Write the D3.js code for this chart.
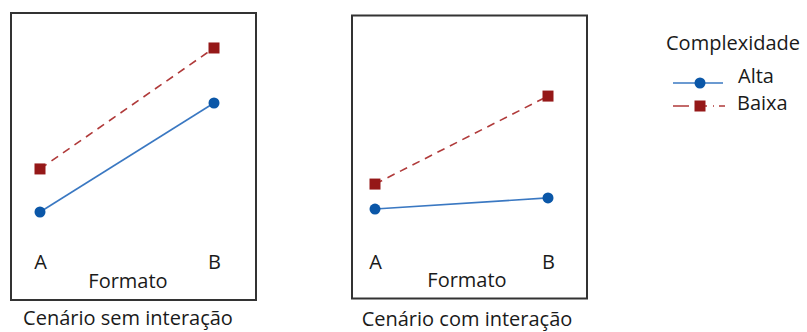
<!DOCTYPE html>
<html><head><meta charset="utf-8">
<script src="https://cdn.jsdelivr.net/npm/d3@7"></script>
<style>body{margin:0;background:#fff}svg{display:block}text{font-family:"Open Sans",sans-serif;fill:#1a1a1a}</style>
</head><body><svg id="c" width="807" height="332"></svg>
<script>
const categories = ["A", "B"];
const panelTitles = ["Cenário sem interação", "Cenário com interação"];
const altaSem = [1.81, 7.0];
const baixaSem = [3.86, 9.62];
const altaCom = [1.95, 2.48];
const baixaCom = [3.14, 7.33];
const seriesNames = ["Alta", "Baixa"];
const xLabel = "Formato";
const legendTitle = "Complexidade";

const svg = d3.select("#c");
const blue = "#0b57a8", blueLine = "#3a78c2", red = "#951818", redLine = "#b03a3a";
const fs = 20;

const panels = [
  {frame:[11,13,256,300], xr:[40,214], cx:128, titleY:325, labY:288, alta:altaSem, baixa:baixaSem, title:panelTitles[0]},
  {frame:[352,15.5,587,298.5], xr:[375,548], cx:467, titleY:326, labY:287, alta:altaCom, baixa:baixaCom, title:panelTitles[1]}
];
const y = d3.scaleLinear().domain([0,10]).range([250,40]);

panels.forEach(p => {
  const g = svg.append("g");
  const [x0,y0,x1,y1] = p.frame;
  g.append("rect").attr("x",x0).attr("y",y0).attr("width",x1-x0).attr("height",y1-y0)
    .attr("fill","none").attr("stroke","#333").attr("stroke-width",2);
  const x = d3.scalePoint().domain(categories).range(p.xr);
  const line = d3.line().x((d,i)=>x(categories[i])).y(d=>y(d));
  g.append("path").datum(p.baixa).attr("d",line).attr("fill","none")
    .attr("stroke",redLine).attr("stroke-width",1.6).attr("stroke-dasharray","8,6");
  g.append("path").datum(p.alta).attr("d",line).attr("fill","none")
    .attr("stroke",blueLine).attr("stroke-width",1.6);
  g.selectAll(".sq").data(p.baixa).enter().append("rect")
    .attr("x",(d,i)=>x(categories[i])-5.5).attr("y",d=>y(d)-5.5).attr("width",11).attr("height",11).attr("fill",red);
  g.selectAll(".ci").data(p.alta).enter().append("circle")
    .attr("cx",(d,i)=>x(categories[i])).attr("cy",d=>y(d)).attr("r",5.5).attr("fill",blue);
  const ax = d3.axisBottom(x).tickSize(0).tickPadding(0);
  const axg = g.append("g").attr("transform","translate(0,269)").call(ax);
  axg.select(".domain").remove();
  axg.selectAll("text").attr("font-size",fs).attr("font-family","Open Sans, sans-serif")
    .attr("fill","#1a1a1a").attr("dy",0).attr("y",0);
  g.append("text").attr("x",p.cx).attr("y",p.labY).attr("text-anchor","middle").attr("font-size",fs).text(xLabel);
  g.append("text").attr("x",p.cx).attr("y",p.titleY).attr("text-anchor","middle").attr("font-size",fs).text(p.title);
});

// legend
const lg = svg.append("g");
lg.append("text").attr("x",666).attr("y",50).attr("font-size",fs).text(legendTitle);
lg.append("line").attr("x1",673).attr("x2",723).attr("y1",83).attr("y2",83).attr("stroke",blueLine).attr("stroke-width",1.6);
lg.append("circle").attr("cx",700).attr("cy",83).attr("r",5.5).attr("fill",blue);
lg.append("line").attr("x1",673).attr("x2",725).attr("y1",106).attr("y2",106).attr("stroke",redLine).attr("stroke-width",1.6).attr("stroke-dasharray","16,10,8,6,1,5");
lg.append("rect").attr("x",694.5).attr("y",100.5).attr("width",11).attr("height",11).attr("fill",red);
lg.append("text").attr("x",738).attr("y",83).attr("font-size",fs).text(seriesNames[0]);
lg.append("text").attr("x",737).attr("y",110).attr("font-size",fs).text(seriesNames[1]);
</script></body></html>
